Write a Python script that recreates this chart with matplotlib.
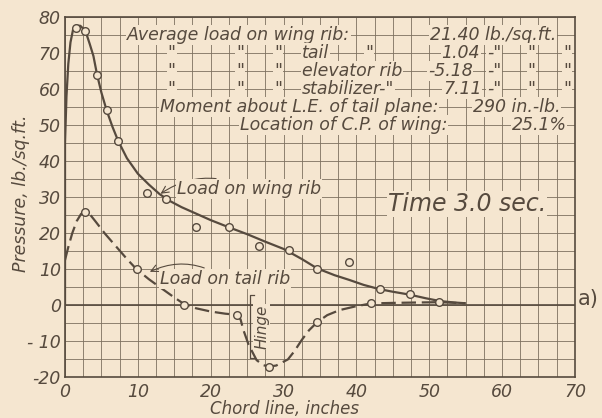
import numpy as np
import matplotlib
matplotlib.use("Agg")
import matplotlib.pyplot as plt

# measured points (chord in inches, pressure in lb./sq.ft.)
wing_x = [1.5, 2.74, 4.35, 5.72, 7.32, 11.2, 13.9, 18.0, 22.5, 26.6, 30.7, 34.6, 39.0, 43.2, 47.3, 51.4]
wing_y = [77.0, 76.1, 63.8, 54.2, 45.6, 31.0, 29.4, 21.75, 21.75, 16.4, 15.2, 9.9, 11.9, 4.4, 3.1, 0.9]

tail_x = [2.74, 9.84, 16.4, 23.6, 28.0, 34.6, 42.0]
tail_y = [25.9, 9.9, 0.1, -2.7, -17.1, -4.8, 0.45]

# faired curves as drawn on the sheet
wing_cx = [0, 0, 0.2, 0.45, 0.75, 1.1, 1.5, 2.1, 2.8, 3.4, 3.9, 4.4, 5.0, 5.7, 6.5, 7.3, 8.5, 10,
           11.5, 13, 14.5, 16, 18, 20, 22.5, 25, 27.5, 30, 32.5, 34.6, 37, 39, 41, 43.2, 45, 47.3,
           49.5, 51.5, 53.5, 55]
wing_cy = [0, 45, 58, 67, 73, 76.5, 77.6, 77.6, 76.2, 72.5, 69.2, 64, 59, 54.2, 49.6, 45.6, 40.8, 36.5,
           33.5, 30.8, 28.8, 27.2, 25.4, 23.6, 21.6, 19.7, 17.6, 15.6, 12.8, 10.2, 8.3, 7.0, 5.6, 4.4, 3.7, 2.9,
           1.9, 1.1, 0.7, 0.5]

tail_cx = [0, 0.5, 1, 1.6, 2.2, 2.7, 3.3, 4.2, 5.5, 7, 8.5, 9.8, 11.5, 13, 14.8, 16.4, 18, 20, 22, 23.6,
           24.1, 24.5, 25.2, 26.3, 27.2, 28, 29, 30.6, 31.5, 32.5, 33.5, 34.6, 36, 37.7, 39.8, 42, 45, 48,
           51.4, 55]
tail_cy = [12.5, 16.5, 20, 23.3, 25.3, 26, 25.5, 23.2, 19.8, 16.3, 12.8, 10, 7.2, 5, 2.4, 0.2, -0.9, -1.8, -2.4, -2.7,
           -4, -7, -11, -15.3, -16.7, -17.1, -16.8, -15.1, -12.8, -9.7, -7, -4.8, -2.8, -1.4, -0.4, 0.45, 0.6, 0.7,
           0.8, 0.5]

xticks = [0, 10, 20, 30, 40, 50, 60, 70]
yticks = [-20, -10, 0, 10, 20, 30, 40, 50, 60, 70, 80]
ytick_labels = ["-20", "- 10", "0", "10", "20", "30", "40", "50", "60", "70", "80"]

bg = "#f5e6d0"
ink = "#564a3e"
grid_c = "#7d705f"

fig = plt.figure(figsize=(6.02, 4.18), dpi=100, facecolor=bg)
ax = fig.add_axes([0.108, 0.098, 0.847, 0.861], facecolor=bg)

ax.set_xlim(0, 70)
ax.set_ylim(-20, 80)
ax.set_xticks(np.arange(0, 70.1, 2.5), minor=True)
ax.set_yticks(np.arange(-20, 80.1, 5), minor=True)
ax.set_xticks(xticks)
ax.set_yticks(yticks)
ax.set_xticklabels([str(v) for v in xticks], fontstyle="italic", fontsize=12.5, color=ink)
ax.set_yticklabels(ytick_labels, fontstyle="italic", fontsize=12.5, color=ink)
ax.tick_params(which="both", length=0)
ax.tick_params(axis="x", pad=4)
ax.tick_params(axis="y", pad=3)
ax.grid(which="both", color=grid_c, lw=0.6)
ax.set_axisbelow(True)
for s in ax.spines.values():
    s.set_color(ink)
    s.set_linewidth(1.2)
ax.axhline(0, color=ink, lw=1.2, zorder=2)

box = dict(facecolor=bg, edgecolor="none", pad=0.6)

# hinge mark (kept under the curve)
ax.plot([25.9, 25.4, 25.4, 25.9], [2.8, 2.8, -14.8, -14.8], color=ink, lw=0.9, zorder=2.6)
ax.text(27.0, -6.0, "Hinge", rotation=90, fontstyle="italic", fontsize=11, color=ink,
        va="center", ha="center", bbox=box, zorder=2.5)

ax.plot(wing_cx, wing_cy, color=ink, lw=1.6, zorder=3, solid_capstyle="butt")
ax.plot(tail_cx, tail_cy, color=ink, lw=1.6, dashes=[6.5, 2.6], zorder=3)
ax.plot(wing_x, wing_y, "o", ms=5.5, mfc=bg, mec=ink, mew=1.0, zorder=4)
ax.plot(tail_x, tail_y, "o", ms=5.5, mfc=bg, mec=ink, mew=1.0, zorder=4)

tk = dict(fontstyle="italic", fontsize=12.5, color=ink, va="center", ha="left", bbox=box, zorder=5)

# summary block
ax.text(8.5, 75, "Average load on wing rib:", **tk)
ax.text(50.1, 75, "21.40 lb./sq.ft.", **tk)
rows = [(70, "tail", "1.04", 51.7), (65, "elevator rib", "-5.18", 49.8), (60, "stabilizer-\"", "7.11", 51.9)]
for yy, name, val, vx in rows:
    for dx in [14.1, 23.5, 28.7]:
        ax.text(dx, yy, "\"", **tk)
    ax.text(32.5, yy, name, **tk)
    if name == "tail":
        ax.text(41.2, yy, "\"", **tk)
    ax.text(vx, yy, val, **tk)
    ax.text(57.9, yy, "-\"", **tk)
    ax.text(63.5, yy, "\"", **tk)
    ax.text(68.4, yy, "\"", **tk)
ax.text(13.0, 55, "Moment about L.E. of tail plane:", **tk)
ax.text(56.0, 55, "290 in.-lb.", **tk)
ax.text(24.0, 50, "Location of C.P. of wing:", **tk)
ax.text(61.3, 50, "25.1%", **tk)

ax.annotate("Load on wing rib", xy=(12.8, 30.5), xytext=(15.4, 32.3), fontstyle="italic",
            fontsize=12.5, color=ink, va="center", bbox=box, zorder=5,
            arrowprops=dict(arrowstyle="->", color=ink, lw=0.8, connectionstyle="arc3,rad=0.3"))
ax.annotate("Load on tail rib", xy=(11.3, 8.9), xytext=(13.0, 7.3), fontstyle="italic",
            fontsize=12.5, color=ink, va="center", bbox=box, zorder=5,
            arrowprops=dict(arrowstyle="->", color=ink, lw=0.8, connectionstyle="arc3,rad=0.3"))
ax.text(44.3, 28.2, "Time 3.0 sec.", fontstyle="italic", fontsize=17, color=ink,
        va="center", ha="left", bbox=box, zorder=5)

ax.set_ylabel("Pressure, lb./sq.ft.", fontstyle="italic", fontsize=12.5, color=ink)
ax.yaxis.set_label_coords(-0.068, 0.51)
ax.set_xlabel("Chord line, inches", fontstyle="italic", fontsize=12, color=ink, va="top")
ax.xaxis.set_label_coords(0.43, -0.064)

fig.text(0.977, 0.285, "a)", fontsize=15, color=ink, ha="center", va="center")

fig.savefig("out.png", dpi=100, facecolor=bg)
